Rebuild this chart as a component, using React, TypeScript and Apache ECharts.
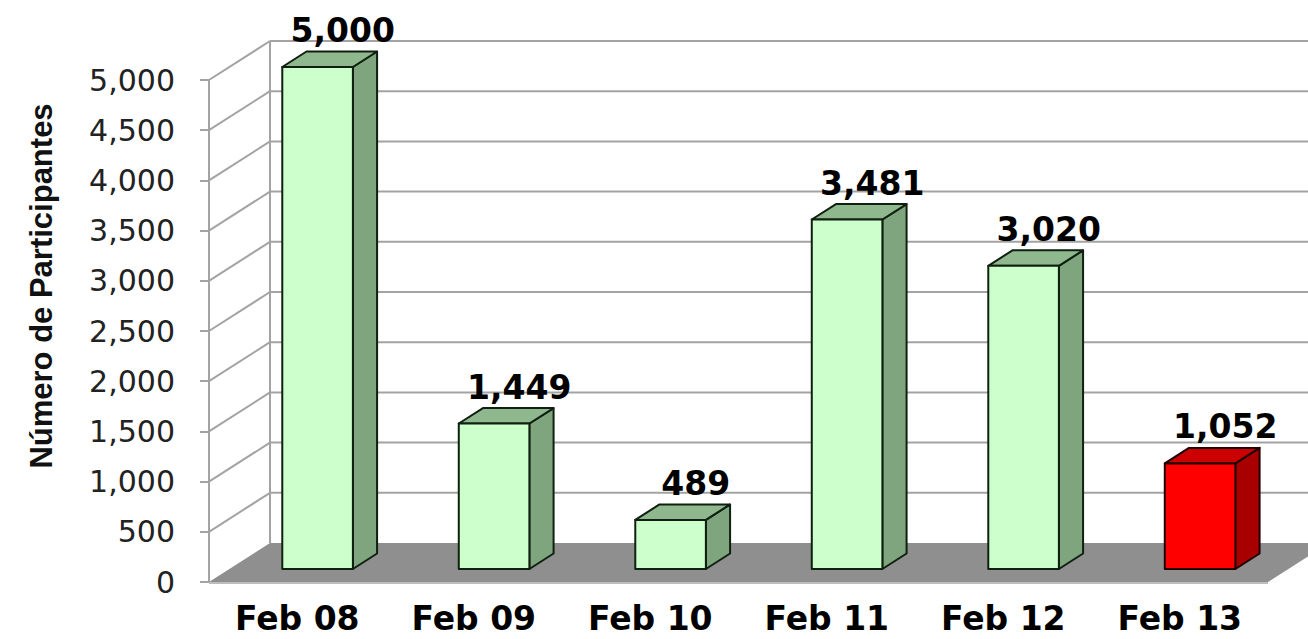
import React, { useEffect, useRef } from "react";
import * as echarts from "echarts";

// ---------- data ----------
const categories = ["Feb 08", "Feb 09", "Feb 10", "Feb 11", "Feb 12", "Feb 13"];
const participants = [5000, 1449, 489, 3481, 3020, 1052];
const yTicks = [0, 500, 1000, 1500, 2000, 2500, 3000, 3500, 4000, 4500, 5000];
const yAxisTitle = "Número de Participantes";
const highlightCategory = "Feb 13";

// ---------- scale ----------
const Y_MIN = 0;
const Y_MAX = 5000;
const Y_STEP = 500;

// ---------- 3D look ----------
const DEPTH_X = 61;
const DEPTH_Y = -39;
const BAR_FRONT = 1 / 3;
const BAR_BACK = 0.73;
const BAR_WIDTH = 0.4;

const normalColors = { front: "#ccffcc", top: "#8fb88f", side: "#7fa57f", stroke: "#102010" };
const highlightColors = { front: "#ff0000", top: "#cc0000", side: "#a80000", stroke: "#220000" };
const GRID_COLOR = "#a3a3a3";
const FLOOR_COLOR = "#8f8f8f";
const H_FONT = "DejaVu Sans";

const fmt = (v: number) => v.toLocaleString("en-US");

function renderWall(params: any, api: any) {
  const cs = params.coordSys;
  const v = api.value(1);
  const y = api.coord([0, v])[1];
  const left = cs.x;
  const right = cs.x + cs.width;
  const lineStyle = { stroke: GRID_COLOR, lineWidth: 2 };
  const children: any[] = [];
  if (params.dataIndex === 0) {
    const top = api.coord([0, Y_MAX])[1];
    children.push({
      type: "polygon",
      shape: {
        points: [
          [left, y],
          [left + DEPTH_X, y + DEPTH_Y],
          [right + DEPTH_X, y + DEPTH_Y],
          [right, y],
        ],
      },
      style: { fill: FLOOR_COLOR },
    });
    children.push({
      type: "line",
      shape: { x1: left, y1: y + 1, x2: right, y2: y + 1 },
      style: { stroke: "#bdbdbd", lineWidth: 2 },
    });
    children.push({
      type: "line",
      shape: { x1: left + DEPTH_X, y1: y + DEPTH_Y, x2: left + DEPTH_X, y2: top + DEPTH_Y },
      style: lineStyle,
    });
  } else {
    children.push({
      type: "line",
      shape: { x1: left, y1: y, x2: left + DEPTH_X, y2: y + DEPTH_Y },
      style: lineStyle,
    });
    children.push({
      type: "line",
      shape: { x1: left + DEPTH_X, y1: y + DEPTH_Y, x2: right + DEPTH_X, y2: y + DEPTH_Y },
      style: lineStyle,
    });
  }
  return { type: "group", children };
}

function renderBar(params: any, api: any) {
  const idx = api.value(0);
  const v = api.value(1);
  const pTop = api.coord([idx, v]);
  const pBot = api.coord([idx, Y_MIN]);
  const band = api.size([1, 0])[0];
  const w = band * BAR_WIDTH;
  const dx1 = DEPTH_X * BAR_FRONT;
  const dy1 = DEPTH_Y * BAR_FRONT;
  const ddx = DEPTH_X * (BAR_BACK - BAR_FRONT);
  const ddy = DEPTH_Y * (BAR_BACK - BAR_FRONT);
  const x0 = pTop[0] + dx1 - w / 2;
  const x1 = x0 + w;
  const yt = pTop[1] + dy1;
  const yb = pBot[1] + dy1;
  const c = categories[idx] === highlightCategory ? highlightColors : normalColors;
  const stroke = { stroke: c.stroke, lineWidth: 2, lineJoin: "round" };
  return {
    type: "group",
    children: [
      {
        type: "polygon",
        shape: { points: [[x1, yt], [x1 + ddx, yt + ddy], [x1 + ddx, yb + ddy], [x1, yb]] },
        style: { fill: c.side, ...stroke },
      },
      {
        type: "polygon",
        shape: { points: [[x0, yt], [x1, yt], [x1 + ddx, yt + ddy], [x0 + ddx, yt + ddy]] },
        style: { fill: c.top, ...stroke },
      },
      {
        type: "rect",
        shape: { x: x0, y: yt, width: w, height: yb - yt },
        style: { fill: c.front, ...stroke },
      },
      {
        type: "text",
        style: {
          text: fmt(v),
          x: pTop[0] + dx1 + ddx + 1,
          y: yt + ddy - 21,
          align: "center",
          verticalAlign: "middle",
          fontFamily: H_FONT,
          fontWeight: "bold",
          fontSize: 33,
          fill: "#000000",
        },
      },
    ],
  };
}

export default function App() {
  const ref = useRef<HTMLDivElement>(null);
  useEffect(() => {
    if (!ref.current) return;
    const chart = echarts.init(ref.current, undefined, { renderer: "svg" });
    chart.setOption({
      animation: false,
      backgroundColor: "#ffffff",
      grid: { left: 209, top: 80, right: 40, bottom: 57, containLabel: false },
      xAxis: {
        type: "category",
        data: categories,
        axisLine: { show: false },
        axisTick: { show: false },
        splitLine: { show: false },
        axisLabel: {
          margin: 22,
          lineHeight: 28,
          fontFamily: H_FONT,
          fontWeight: "bold",
          fontSize: 33,
          color: "#000000",
        },
      },
      yAxis: {
        type: "value",
        min: Y_MIN,
        max: Y_MAX,
        interval: Y_STEP,
        axisLine: { show: true, lineStyle: { color: GRID_COLOR, width: 2 } },
        axisTick: { show: true, length: 9, lineStyle: { color: GRID_COLOR, width: 2 } },
        splitLine: { show: false },
        axisLabel: {
          margin: 34,
          fontFamily: H_FONT,
          fontSize: 30,
          color: "#222222",
          formatter: (v: number) => fmt(v),
        },
      },
      graphic: [
        {
          type: "text",
          x: 41,
          y: 286,
          rotation: Math.PI / 2,
          style: {
            text: yAxisTitle,
            align: "center",
            verticalAlign: "middle",
            fontFamily: "Liberation Sans",
            fontWeight: "bold",
            fontSize: 31,
            fill: "#111111",
          },
        },
      ],
      series: [
        {
          type: "custom",
          name: "wall",
          z: 1,
          silent: true,
          renderItem: renderWall,
          data: yTicks.map((v) => [0, v]),
        },
        {
          type: "custom",
          name: "Participantes",
          z: 3,
          renderItem: renderBar,
          data: participants.map((v, i) => [i, v]),
        },
      ],
    });
    return () => chart.dispose();
  }, []);
  return (
    <div
      ref={ref}
      style={{ position: "absolute", left: 0, top: 0, width: 1308, height: 639 }}
    />
  );
}
